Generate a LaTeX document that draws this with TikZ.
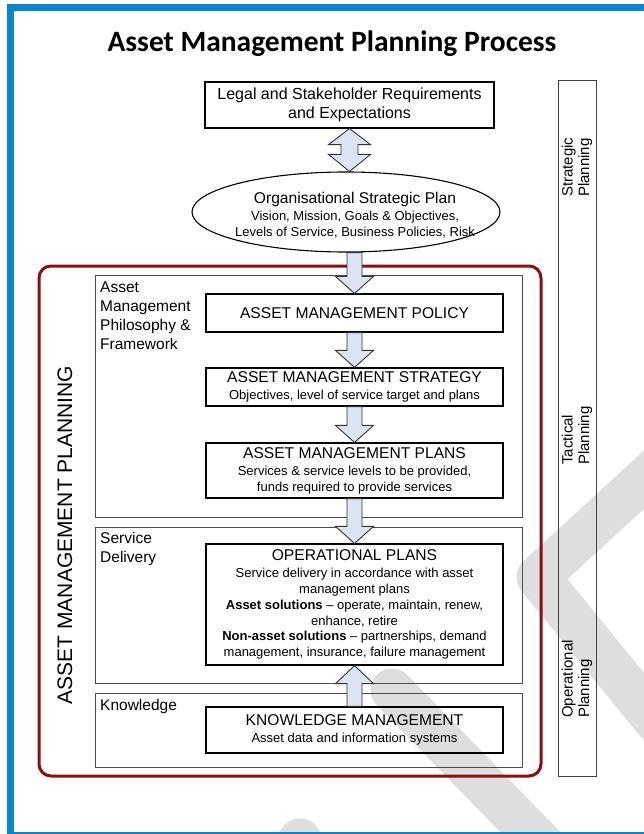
\documentclass[tikz,border=0pt]{standalone}
\usepackage{fontspec}
\setmainfont{Liberation Sans}
\newfontfamily\titlefont{Carlito}
\usetikzlibrary{calc,shapes.geometric}
\definecolor{frameblue}{HTML}{0A86CF}
\definecolor{redframe}{HTML}{8C0F0F}
\definecolor{arrowfill}{HTML}{DCE3F2}
\definecolor{wmgray}{HTML}{DEDEDE}
\tikzset{
  mainbox/.style={draw=black, line width=1.2pt, minimum width=297pt, align=center, inner sep=0pt},
  sectbox/.style={draw=black!70, line width=0.9pt, minimum width=427pt, inner sep=0pt},
  barrow/.style={draw=black!80, fill=arrowfill, line width=0.9pt, line join=miter},
  wm/.style={draw=wmgray, line width=43pt, line cap=round, line join=round},
  seclabel/.style={anchor=north west, align=left, font=\fontsize{15.5}{19}\selectfont, inner sep=0pt},
  sidelabel/.style={rotate=90, anchor=west, align=left, font=\fontsize{15}{16.5}\selectfont, inner sep=0pt},
  smalltext/.style={font=\fontsize{13}{15.9}\selectfont},
}
\newcommand\hd[1]{{\fontsize{15.6}{18}\selectfont #1}}
\newcommand\arrdown[2]{%
  \draw[barrow] let \p1=(#1.south), \p2=(#2.north) in
    (\x2-7.5pt,\y1) -- (\x2+7.5pt,\y1) -- (\x2+7.5pt,\y2+17pt) -- (\x2+19pt,\y2+17pt)
    -- (\x2,\y2) -- (\x2-19pt,\y2+17pt) -- (\x2-7.5pt,\y2+17pt) -- cycle;}
\newcommand\arrup[2]{%
  \draw[barrow] let \p1=(#1.north), \p2=(#2.south) in
    (\x1-7.5pt,\y1) -- (\x1+7.5pt,\y1) -- (\x1+7.5pt,\y2-18pt) -- (\x1+19pt,\y2-18pt)
    -- (\x1,\y2) -- (\x1-19pt,\y2-18pt) -- (\x1-7.5pt,\y2-18pt) -- cycle;}
\newcommand\arrboth[2]{%
  \draw[barrow] let \p1=(#1.south), \p2=(#2.north) in
    (\x1,\y1) -- (\x1+21pt,\y1-16pt) -- (\x1+8.5pt,\y1-16pt) -- (\x1+8.5pt,\y2+17pt)
    -- (\x1+21pt,\y2+17pt) -- (\x1,\y2) -- (\x1-21pt,\y2+17pt) -- (\x1-8.5pt,\y2+17pt)
    -- (\x1-8.5pt,\y1-16pt) -- (\x1-21pt,\y1-16pt) -- cycle;}
\begin{document}
\begin{tikzpicture}[x=1pt,y=-1pt]
\useasboundingbox (0,0) rectangle (644,834);
\fill[white] (0,0) rectangle (644,834);
% watermark
\draw[wm] (720,410) -- (538,577) -- (720,800);
\draw[wm] (392,690) -- (577,880);
\draw[wm] (300,840) -- (250,900);
% blue frame
\fill[frameblue] (7,4) rectangle (644,11);
\fill[frameblue] (7,4) rectangle (14,834);
\fill[frameblue] (7,831.5) rectangle (644,834);
% title
\node[font=\titlefont\bfseries\fontsize{29.5}{34}\selectfont, anchor=base, inner sep=0pt] (title) at (332,51.5) {Asset Management Planning Process};
% right bar
\node[draw=black!75, line width=0.9pt, minimum width=38pt, minimum height=696pt, inner sep=0pt] (bar) at (577,428) {};
\node[sidelabel] (strat) at (577,197) {Strategic\\Planning};
\node[sidelabel] (tact) at (577,465) {Tactical\\Planning};
\node[sidelabel] (oper) at (577,718) {Operational\\Planning};
% sections
\node[sectbox, minimum height=242pt] (secA) at (308.5,396) {};
\node[sectbox, minimum height=156pt] (secB) at (308.5,605) {};
\node[sectbox, minimum height=74pt] (secC) at (308.5,730) {};
\node[seclabel] (labA) at (100,282) {Asset\\Management\\Philosophy \&\\Framework};
\node[seclabel] (labB) at (100,532) {Service\\Delivery};
\node[seclabel] (labC) at (100,699) {Knowledge};
% red frame
\draw[redframe, line width=3pt, rounded corners=12pt] (39,266) rectangle (541,776);
\node[rotate=90, font=\fontsize{21}{24}\selectfont, inner sep=0pt] (amp) at (65,535) {ASSET MANAGEMENT PLANNING};
% top
\node[mainbox, minimum width=289pt, minimum height=46pt, font=\fontsize{16}{19.5}\selectfont] (legal) at (349.5,105) {Legal and Stakeholder Requirements\\and Expectations};
\node[draw=black, line width=1.1pt, ellipse, minimum width=308pt, minimum height=80pt, inner sep=0pt] (osp) at (346,212) {};
\node[align=center, inner sep=0pt, smalltext] (osptext) at (355,215.5) {\hd{Organisational Strategic Plan}\\[1pt]Vision, Mission, Goals \& Objectives,\\Levels of Service, Business Policies, Risk};
% main boxes
\node[mainbox, minimum height=38pt, font=\fontsize{15.6}{18}\selectfont] (policy) at (354.5,313) {ASSET MANAGEMENT POLICY};
\node[mainbox, minimum height=38pt, smalltext] (strategy) at (354.5,387) {\hd{ASSET MANAGEMENT STRATEGY}\\[1pt]Objectives, level of service target and plans};
\node[mainbox, minimum height=55pt, smalltext] (plans) at (354.5,470.5) {\hd{ASSET MANAGEMENT PLANS}\\[1pt]Services \& service levels to be provided,\\funds required to provide services};
\node[mainbox, minimum height=121pt, smalltext] (oplans) at (354.5,604.5) {\hd{OPERATIONAL PLANS}\\[1pt]Service delivery in accordance with asset\\management plans\\\textbf{Asset solutions} -- operate, maintain, renew,\\enhance, retire\\\textbf{Non-asset solutions} -- partnerships, demand\\management, insurance, failure management};
\node[mainbox, minimum height=46pt, smalltext] (km) at (354.5,730) {\hd{KNOWLEDGE MANAGEMENT}\\[1pt]Asset data and information systems};
% arrows
\arrboth{legal}{osp}
\arrdown{osp}{policy}
\arrdown{policy}{strategy}
\arrdown{strategy}{plans}
\arrdown{plans}{oplans}
\arrup{km}{oplans}
\end{tikzpicture}
\end{document}
